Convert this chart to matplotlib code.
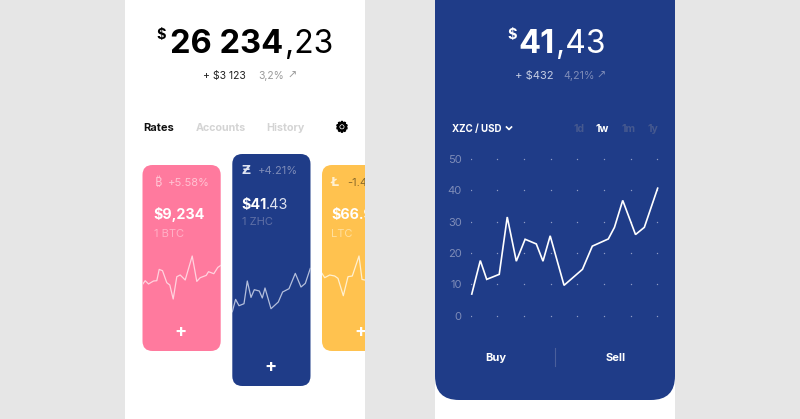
import matplotlib
matplotlib.use("Agg")
import numpy as np
import matplotlib.pyplot as plt
import matplotlib.patheffects as pe
from matplotlib.patches import Rectangle, FancyBboxPatch

W, H = 800, 419
FONT = "Inter"
SYMBOL_FONTS = ["Noto Sans", "Open Sans", "Roboto", "Lato", "Liberation Sans", "Inter", "DejaVu Sans"]
BLUE = "#1f3c88"; PINK = "#ff7a9e"; YELLOW = "#ffc24f"; GRAY = "#e6e6e6"

# main chart data
day_ticks = [0, 1, 2, 3, 4, 5, 6, 7]
value_ticks = [0, 10, 20, 30, 40, 50]
main_days = [.04, .36, .6, 1.07, 1.37, 1.71, 2.04, 2.46, 2.71, 2.98, 3.5, 4.19, 4.56, 5.16, 5.39, 5.7, 6.18, 6.51, 7.01]
main_vals = [6.9, 17.6, 11.6, 13.2, 31.5, 17.4, 24.4, 22.9, 17.4, 25.5, 9.7, 14.8, 22.2, 24.5, 28.2, 36.8, 25.9, 28.2, 40.7]

# sparkline data (x in pixels from card left, y in relative height)
pink_x = [0, 2.7, 6, 11, 14.3, 16.7, 20, 24.3, 27.3, 30.7, 34.3, 37.7, 42.7, 49.7, 54.3, 57.7, 63.7, 66, 71.3, 75.3, 78.3]
pink_y = [32.3, 36, 32.7, 35.7, 36, 47.3, 46, 34, 31.7, 17.7, 40, 41.7, 36.7, 60.7, 35.3, 39, 41.3, 45, 43, 49.3, 51.3]
blue_x = [0, 3.3, 6.7, 11.7, 15, 18.7, 22, 27, 30, 32.7, 38.7, 46, 50.3, 56.7, 63, 68.7, 73, 78]
blue_y = [5, 17.3, 11, 13, 35.7, 19.3, 27, 25.7, 18.7, 28.7, 8, 14.7, 24.7, 28, 43.3, 29.7, 33.3, 48.3]
yellow_x = [0, 2.7, 7.7, 12.7, 16, 21.3, 26, 30.3, 37, 40, 42.7]
yellow_y = [43.3, 39, 41.7, 40.7, 38.3, 21, 40, 40.7, 60.7, 37.3, 36.7]

fig = plt.figure(figsize=(W / 100, H / 100), dpi=100, facecolor=GRAY)
bg = fig.add_axes([0, 0, 1, 1]); bg.set_xlim(0, W); bg.set_ylim(H, 0); bg.axis("off")

bg.add_patch(Rectangle((125, 0), 240, H, fc="white", ec="none"))
bg.add_patch(Rectangle((435, 0), 240, H, fc="white", ec="none"))
clip = Rectangle((125, 0), 240, H, transform=bg.transData)

def rbox(x0, y0, x1, y1, r, c, **kw):
    p = FancyBboxPatch((x0 + r, y0 + r), x1 - x0 - 2 * r, y1 - y0 - 2 * r,
                       boxstyle=f"round,pad={r},rounding_size={r}", fc=c, ec="none", **kw)
    bg.add_patch(p)
    return p

rbox(435, -40, 675, 400, 24, BLUE)
rbox(142.5, 165, 220.7, 351, 10, PINK)
rbox(232.3, 154, 310.5, 386, 10, BLUE)
rbox(322, 165, 400, 351, 10, YELLOW).set_clip_path(clip)

def t(x, y, s, c, size, weight="normal", ha="left", clipped=False, family=FONT, va="baseline"):
    o = bg.text(x, y, s, color=c, fontsize=size, fontweight=weight, ha=ha, va=va, family=family)
    if clipped:
        o.set_clip_path(clip)
        o.set_clip_on(True)
    return o

# left header
t(156.5, 39, "$", "black", 10.5, "bold")
t(170.5, 53, "26 234", "black", 23.5, "bold")
t(285, 53, ",23", "black", 23, "normal")
t(203, 79, "+ $3 123", "#222222", 7.5)
t(258.5, 79, "3,2%", "#9a9a9a", 7.5)
t(287.5, 79, "↗", "#9a9a9a", 8, family="DejaVu Sans")
t(143, 131, "Rates", "#111111", 8, "bold")
t(195.5, 131, "Accounts", "#d4d4d4", 7.7, "bold")
t(266.5, 131, "History", "#d4d4d4", 7.7, "bold")
gear = t(342, 127.5, "⚙", "black", 10.5, "bold", ha="center", family="DejaVu Sans", va="center")
gear.set_path_effects([pe.withStroke(linewidth=0.9, foreground="black")])

# right header
t(507.5, 39, "$", "white", 10.5, "bold")
t(518.5, 53, "41", "white", 23.5, "bold")
t(555.5, 53, ",43", "white", 23, "normal")
t(515, 79, "+ $432", "#c5cde3", 8)
t(563, 79, "4,21%", "#7e8cb8", 7.7)
t(596, 79, "↗", "#7e8cb8", 8, family="DejaVu Sans")
t(452.5, 132, "XZC / USD", "white", 7, "bold")
bg.plot([506.5, 509, 511.5], [127, 129.5, 127], color="white", lw=1.2)
t(573, 132, "1d", "#46598f", 7.5, "bold")
t(596, 132, "1w", "white", 7.5, "bold")
t(622, 132, "1m", "#46598f", 7.5, "bold")
t(648, 132, "1y", "#46598f", 7.5, "bold")
t(496, 361, "Buy", "white", 8, "bold", ha="center")
t(615.5, 361, "Sell", "white", 8, "bold", ha="center")
bg.plot([555.3, 555.3], [348, 366], color="#4a5f9b", lw=0.8)

# card text
t(158, 182, "₿", "#ffc3d3", 9, "bold", ha="center", family=SYMBOL_FONTS, va="center")
t(168, 186, "+5.58%", "#ffc3d3", 8)
t(153.5, 219, "$9,234", "white", 10.3, "bold")
t(153.5, 237, "1 BTC", "#ffb0c6", 8)
t(180, 332, "+", "white", 13, "bold", ha="center", va="center")

t(246, 170, "Ƶ", "#dfe4f1", 9, "bold", ha="center", family="DejaVu Sans", va="center")
t(258, 174, "+4.21%", "#7e8cb8", 8)
t(241.5, 209, "$41", "white", 10.3, "bold")
t(266, 209, ".43", "#dfe4f1", 10.3)
t(241.5, 225, "1 ZHC", "#5f70a6", 8)
t(271, 367, "+", "white", 13, "bold", ha="center", va="center")

t(335, 182, "Ł", "#fff0d0", 9, "bold", ha="center", family="DejaVu Sans", va="center")
t(347, 186, "-1.4", "#8a6a2a", 8, clipped=True)
t(331.5, 219, "$66.9", "white", 10.3, "bold", clipped=True)
t(331.5, 237, "LTC", "#ffe09f", 8, clipped=True)
t(361, 332, "+", "white", 13, "bold", ha="center", va="center", clipped=True)

def px_axes(x0, y0, x1, y1):
    a = fig.add_axes([x0 / W, 1 - y1 / H, (x1 - x0) / W, (y1 - y0) / H])
    a.patch.set_alpha(0)
    for s in a.spines.values():
        s.set_visible(False)
    return a

def spark(card_x0, card_x1, xs, ys, color):
    a = px_axes(card_x0, 250, card_x1, 325)
    a.plot(xs, ys, color=color, lw=0.9, solid_joinstyle="round")
    a.set_xlim(0, card_x1 - card_x0); a.set_ylim(-8.3, 66.7)
    a.axis("off")

spark(142.5, 220.7, pink_x, pink_y, "#ffd3df")
spark(232.3, 310.5, blue_x, blue_y, "#b4bfdc")
spark(322, 365, yellow_x, yellow_y, "#fff0d0")

# main chart
ax = px_axes(470.7, 150, 660, 322)
x_per_day = 26.67
ax.set_xlim(0, (660 - 470.7) / x_per_day)
ax.set_ylim(-(322 - 315.7) / 3.133, (315.7 - 150) / 3.133)
gx, gy = np.meshgrid(day_ticks, value_ticks)
ax.plot(gx.ravel(), gy.ravel(), ls="none", marker="o", ms=1.0, mew=0, color="#8e9bc4")
ax.plot(main_days, main_vals, color="white", lw=1.2, solid_joinstyle="miter", clip_on=False)
ax.set_yticks(value_ticks)
ax.set_xticks([])
ax.tick_params(axis="y", length=0, pad=6.5, labelcolor="#7e8cb8", labelsize=8)
for l in ax.get_yticklabels():
    l.set_family(FONT)

fig.savefig("out.png", dpi=100, facecolor=GRAY)
